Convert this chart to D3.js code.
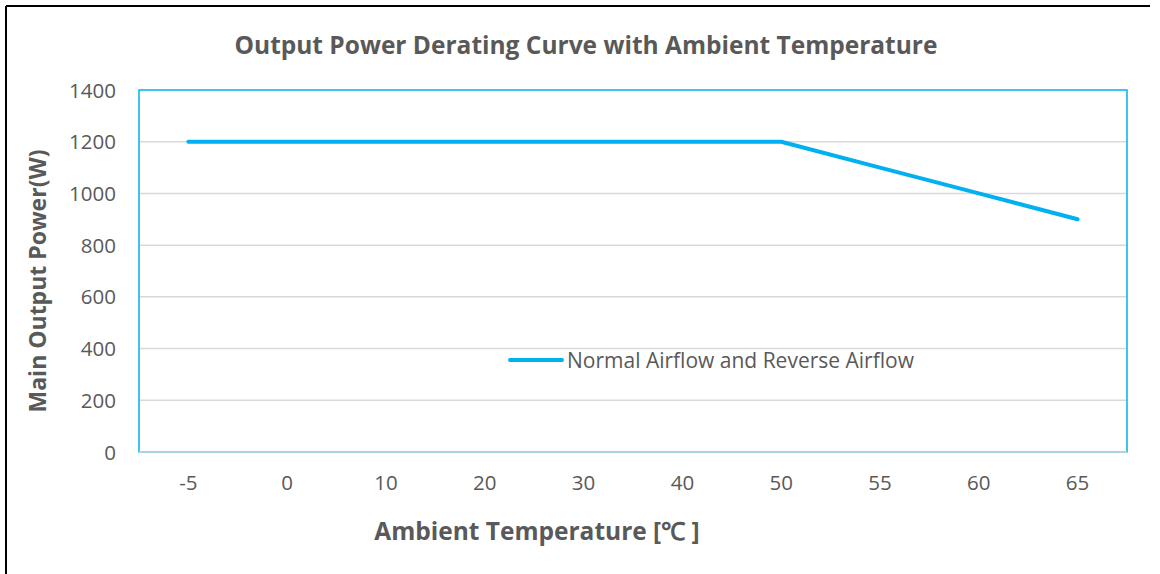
<!DOCTYPE html>
<html>
<head>
<meta charset="utf-8">
<script src="https://cdn.jsdelivr.net/npm/d3@7"></script>
<style>
  body { margin: 0; background: #fff; }
  text { font-family: "Open Sans", sans-serif; fill: #595959; }
</style>
</head>
<body>
<svg id="chart" width="1160" height="574"></svg>
<script>
// data
var temps = ["-5", "0", "10", "20", "30", "40", "50", "55", "60", "65"];
var power = [1200, 1200, 1200, 1200, 1200, 1200, 1200, 1100, 1000, 900];
var yTicks = [0, 200, 400, 600, 800, 1000, 1200, 1400];
var seriesName = "Normal Airflow and Reverse Airflow";

var svg = d3.select("#chart");
var pLeft = 139, pRight = 1127, pTop = 90, pBottom = 452;

// frame of the picture (top and left only show)
svg.append("line").attr("x1", 6).attr("y1", 6).attr("x2", 1150).attr("y2", 6)
    .attr("stroke", "#000").attr("stroke-width", 2);
svg.append("line").attr("x1", 6).attr("y1", 6).attr("x2", 6).attr("y2", 574)
    .attr("stroke", "#000").attr("stroke-width", 2);

var x = d3.scaleBand().domain(temps).range([pLeft, pRight]);
var y = d3.scaleLinear().domain([0, 1400]).range([pBottom, pTop]);

// gridlines
svg.append("g").selectAll("line").data(yTicks.slice(1, -1)).enter().append("line")
    .attr("x1", pLeft).attr("x2", pRight)
    .attr("y1", function(d){ return y(d); }).attr("y2", function(d){ return y(d); })
    .attr("stroke", "#d9d9d9").attr("stroke-width", 1.5);

// plot border
svg.append("rect").attr("x", pLeft).attr("y", pTop)
    .attr("width", pRight - pLeft).attr("height", pBottom - pTop)
    .attr("fill", "none").attr("stroke", "#00b0f0").attr("stroke-width", 1.5);
svg.append("line").attr("x1", pLeft).attr("x2", pRight).attr("y1", pBottom).attr("y2", pBottom)
    .attr("stroke", "#a9d3e3").attr("stroke-width", 2);

// y labels
svg.append("g").selectAll("text").data(yTicks).enter().append("text")
    .attr("x", 116).attr("y", function(d){ return y(d) + 7.5; })
    .attr("text-anchor", "end").style("font-size", "20.5px")
    .text(function(d){ return d; });

// x labels
svg.append("g").selectAll("text").data(temps).enter().append("text")
    .attr("x", function(d){ return x(d) + x.bandwidth() / 2; }).attr("y", 489.5)
    .attr("text-anchor", "middle").style("font-size", "20.5px")
    .text(function(d){ return d; });

// series
var line = d3.line()
    .x(function(d, i){ return x(temps[i]) + x.bandwidth() / 2; })
    .y(function(d){ return y(d); });
svg.append("path").datum(power).attr("d", line)
    .attr("fill", "none").attr("stroke", "#00b0f0").attr("stroke-width", 4)
    .attr("stroke-linecap", "round").attr("stroke-linejoin", "round");

// legend
svg.append("line").attr("x1", 510).attr("x2", 562).attr("y1", 360).attr("y2", 360)
    .attr("stroke", "#00b0f0").attr("stroke-width", 4).attr("stroke-linecap", "round");
svg.append("text").attr("x", 567).attr("y", 367.5).style("font-size", "21px").text(seriesName);

// titles
svg.append("text").attr("x", 586).attr("y", 53.5).attr("text-anchor", "middle")
    .style("font-size", "24.5px").style("font-weight", "bold")
    .text("Output Power Derating Curve with Ambient Temperature");
svg.append("text").attr("x", 537).attr("y", 539.5).attr("text-anchor", "middle")
    .style("font-size", "24.5px").style("font-weight", "bold")
    .text("Ambient Temperature [℃ ]");
svg.append("text").attr("transform", "translate(45.5,281) rotate(-90)")
    .attr("text-anchor", "middle")
    .style("font-size", "23px").style("font-weight", "bold")
    .text("Main Output Power(W)");
</script>
</body>
</html>
